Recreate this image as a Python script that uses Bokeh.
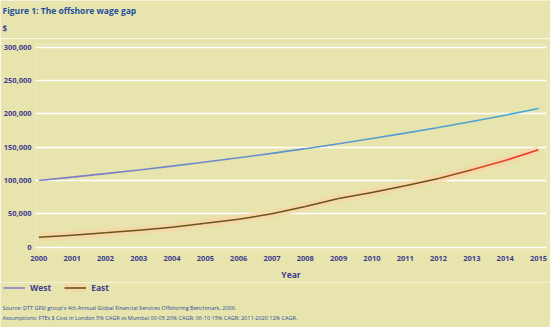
from bokeh.plotting import figure
from bokeh.layouts import column
from bokeh.models import (Range1d, FixedTicker, NumeralTickFormatter, Label, Legend, LegendItem)
from bokeh.embed import file_html
from bokeh.resources import INLINE

years = list(range(2000, 2016))
west = [100000, 105000, 110250, 115760, 121550, 127630, 134010, 140710,
        147750, 155130, 162890, 171030, 179590, 188560, 197990, 207890]
east = [15000, 18000, 21500, 25500, 30000, 36000, 42000, 50000,
        61000, 73000, 82000, 92000, 103000, 116000, 130000, 146000]
y_ticks = [0, 50000, 100000, 150000, 200000, 250000, 300000]

BG = "#e8e4ae"
TXT = "#3f3d8f"
BLUE = "#1f4e9c"
W = 550
H_TOP, H_MAIN, H_BOT = 38, 244, 45

X0, X1 = 1999.9, 2015.24
Y0, Y1 = -5000, 304000


def blank(h):
    f = figure(width=W, height=h, x_range=Range1d(0, W), y_range=Range1d(h, 0),
               output_backend="svg", toolbar_location=None, frame_align=False,
               min_border_left=0, min_border_right=0, min_border_top=0, min_border_bottom=0)
    f.axis.visible = False
    f.grid.visible = False
    f.outline_line_color = None
    f.background_fill_color = BG
    f.border_fill_color = BG
    return f


def lab(f, text, x, y, size, color, bold=False):
    f.add_layout(Label(x=x, y=y, text=text, text_font="Open Sans", text_font_size=size,
                       text_color=color, text_font_style="bold" if bold else "normal",
                       text_baseline="middle", text_align="left"))


# ---- top: title
top = blank(H_TOP)
lab(top, "Figure 1: The offshore wage gap", 2, 10, "8.5px", BLUE, True)
lab(top, "$", 2, 28, "8px", TXT, True)

# ---- main chart
p = figure(width=W, height=H_MAIN, x_range=Range1d(X0, X1), y_range=Range1d(Y0, Y1),
           output_backend="svg", toolbar_location=None, frame_align=False,
           min_border_left=35, min_border_right=4, min_border_top=6, min_border_bottom=32)
p.background_fill_color = BG
p.border_fill_color = BG
p.outline_line_color = None
p.xgrid.grid_line_color = None
p.ygrid.grid_line_color = "white"
p.ygrid.grid_line_width = 1.6
p.yaxis.ticker = FixedTicker(ticks=y_ticks)
p.xaxis.ticker = FixedTicker(ticks=years)
p.yaxis.formatter = NumeralTickFormatter(format="0,0")
for ax in (p.xaxis[0], p.yaxis[0]):
    ax.axis_line_color = None
    ax.major_tick_line_color = None
    ax.minor_tick_line_color = None
    ax.major_tick_out = 0
    ax.major_tick_in = 0
    ax.minor_tick_out = 0
    ax.minor_tick_in = 0
    ax.major_label_text_color = TXT
    ax.major_label_text_font = "Open Sans"
    ax.major_label_text_font_size = "7.5px"
    ax.major_label_text_font_style = "bold"
p.yaxis.major_label_standoff = 4
p.xaxis.major_label_standoff = 5
p.xaxis.axis_label = "Year"
p.xaxis.axis_label_text_color = TXT
p.xaxis.axis_label_text_font = "Open Sans"
p.xaxis.axis_label_text_font_size = "8.5px"
p.xaxis.axis_label_text_font_style = "bold"
p.xaxis.axis_label_standoff = 5


def hexlerp(c1, c2, t):
    a = [int(c1[i:i + 2], 16) for i in (1, 3, 5)]
    b = [int(c2[i:i + 2], 16) for i in (1, 3, 5)]
    return "#%02x%02x%02x" % tuple(int(round(a[k] + (b[k] - a[k]) * t)) for k in range(3))


n = len(years)
wxs = [[years[i], years[i + 1]] for i in range(n - 1)]
wys = [[west[i], west[i + 1]] for i in range(n - 1)]
wcol = [hexlerp("#7f7cc4", "#45a8d8", i / (n - 2)) for i in range(n - 1)]
p.multi_line(xs=wxs, ys=wys, line_color=wcol, line_width=1.6)

p.line(years, east, line_color="#fbd3a4", line_width=8, line_alpha=0.7, line_cap="butt")
eys = [[east[i], east[i + 1]] for i in range(n - 1)]
ecol = []
for i in range(n - 1):
    if years[i] < 2012:
        ecol.append("#6a5318")
    elif years[i] < 2013:
        ecol.append("#94501e")
    else:
        ecol.append(hexlerp("#dc4a28", "#e8382a", (years[i] - 2013) / 1.0))
p.multi_line(xs=wxs, ys=eys, line_color=ecol, line_width=1.5)

# ---- bottom: legend + sources
bot = blank(H_BOT)
off = [-50, -40]
lw = bot.line(x=off, y=off, line_color="#7f82c6", line_width=1.6)
lg = bot.line(x=off, y=off, line_color="#fbd3a4", line_width=9, line_alpha=0.75, line_cap="butt")
le = bot.line(x=off, y=off, line_color="#6a5318", line_width=1.6)
legend = Legend(items=[LegendItem(label="West", renderers=[lw]),
                       LegendItem(label="East", renderers=[lg, le])],
                orientation="horizontal", location=(3, 34.5),
                background_fill_alpha=0, border_line_color=None,
                padding=0, margin=0, spacing=13, label_standoff=5,
                glyph_width=22, glyph_height=9, label_height=9,
                label_text_font="Open Sans", label_text_font_size="8.5px",
                label_text_color=TXT, label_text_font_style="bold")
bot.add_layout(legend)
lab(bot, "Source: DTT GFSI group's 4th Annual Global Financial Services Offshoring Benchmark, 2006.",
    2, 25, "5.5px", BLUE)
lab(bot, "Assumptions: FTEs $ Cost in London 5% CAGR vs Mumbai 00-05 20% CAGR; 06-10 15% CAGR; 2011-2020 12% CAGR.",
    2, 35.5, "5.5px", BLUE)

layout = column(top, p, bot, spacing=0)
open("out.html", "w").write(file_html(layout, INLINE))
